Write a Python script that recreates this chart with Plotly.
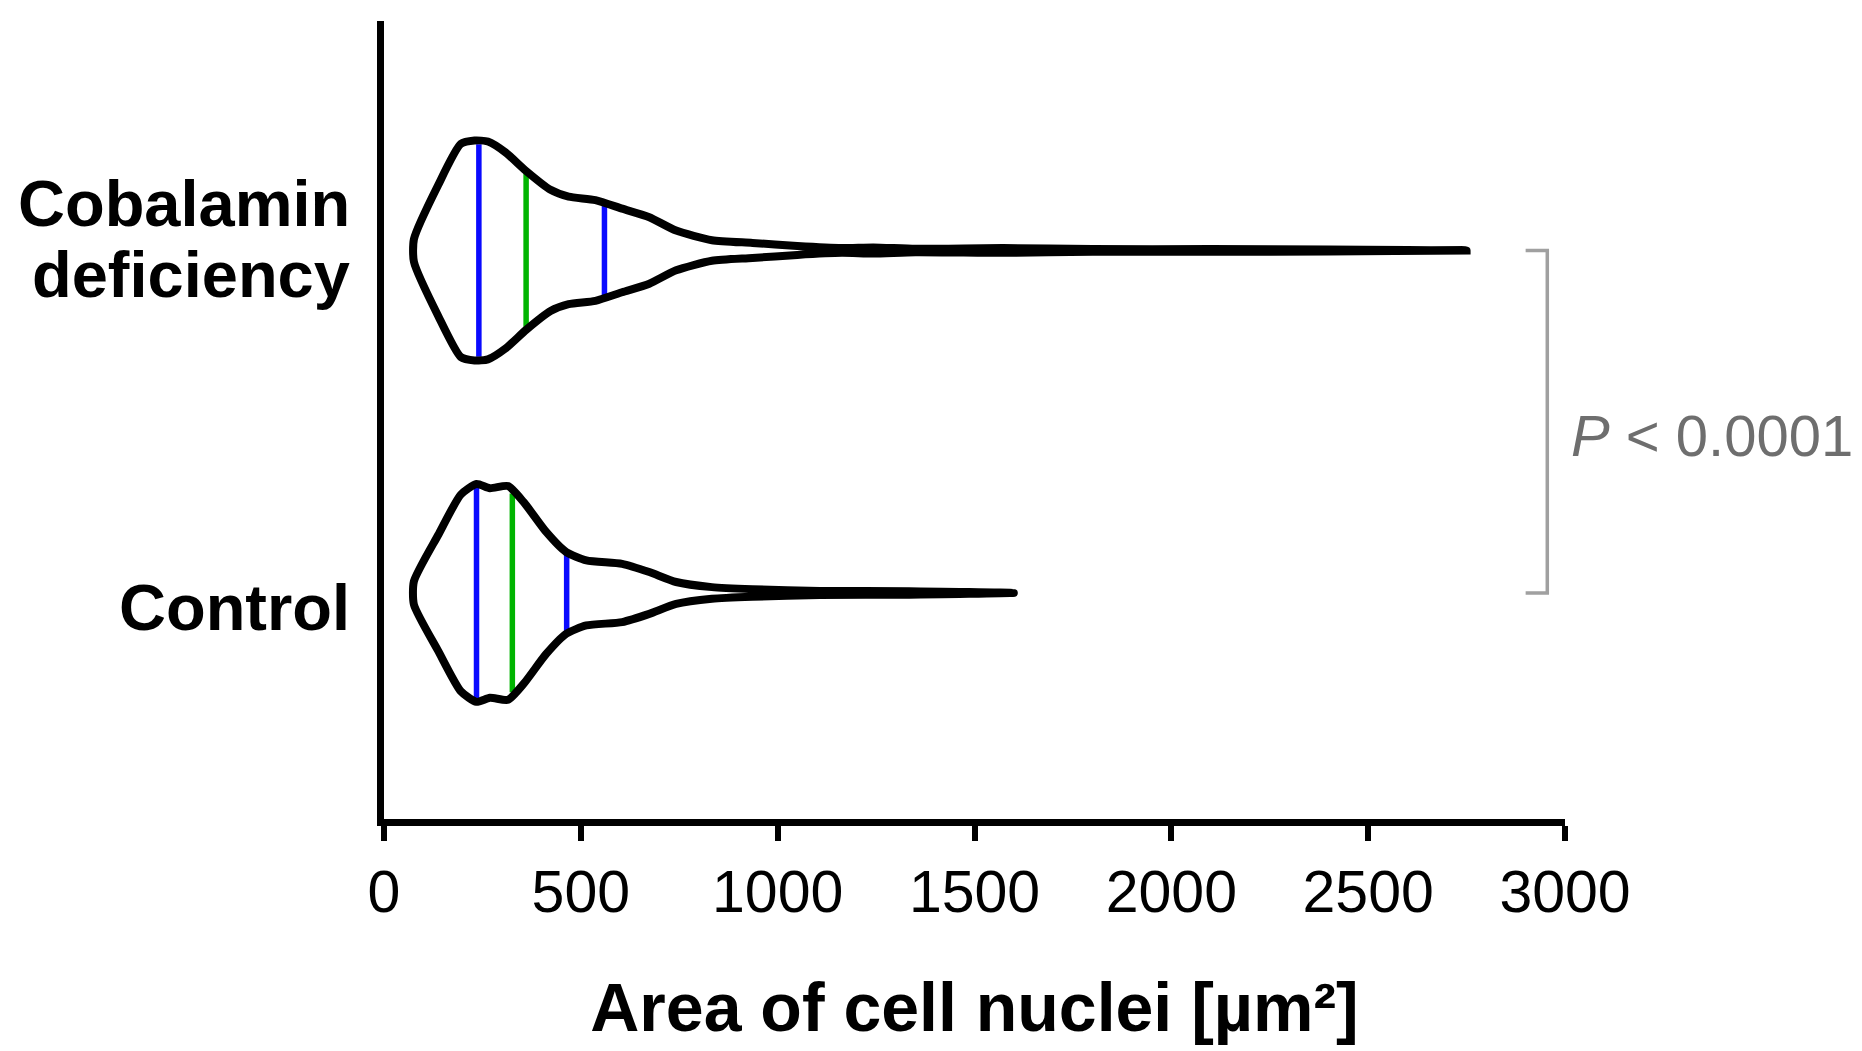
import numpy as np
import plotly.graph_objects as go

# Violin outlines: area value -> half-width (in category units)
group_pos = [1, 2]
label_ctl = ["Control"]
label_cob = ["Cobalamin", "deficiency"]

area_ctl = [76, 138, 195, 235, 269, 315, 355, 412, 463, 514, 605, 674, 742, 833, 936, 1107, 1334, 1600]
hw_ctl = [0.034, 0.17, 0.287, 0.318, 0.306, 0.312, 0.265, 0.178, 0.119, 0.095, 0.085, 0.061,
          0.032, 0.017, 0.011, 0.006, 0.005, 0.0]

area_cob = [76, 138, 195, 230, 264, 309, 361, 423, 469, 537, 605, 674, 742, 833, 936, 1050,
            1163, 1243, 1350, 1573, 1800, 2100, 2400, 2750]
hw_cob = [0.033, 0.192, 0.311, 0.321, 0.318, 0.286, 0.232, 0.177, 0.157, 0.147, 0.122, 0.097,
          0.058, 0.03, 0.022, 0.013, 0.007, 0.009, 0.005, 0.007, 0.004, 0.004, 0.003, 0.0]

# quartiles (Q1, median, Q3)
quart_ctl = [235, 326, 464]
quart_cob = [241, 361, 560]

x_ticks = [0, 500, 1000, 1500, 2000, 2500, 3000]
p_text = "<i>P</i> < 0.0001"

BLUE = "#0a0aff"
GREEN = "#00b400"
FONT = "Liberation Sans, Arial, sans-serif"

fig = go.Figure()

series = [
    (group_pos[0], area_ctl, hw_ctl, quart_ctl),
    (group_pos[1], area_cob, hw_cob, quart_cob),
]

for pos, area, hw, quart in series:
    area = np.array(area, dtype=float)
    hw = np.array(hw, dtype=float)
    # quartile / median lines inside the violin
    for q, col in zip(quart, [BLUE, GREEN, BLUE]):
        h = np.interp(q, area, hw) * 0.97
        fig.add_trace(go.Scatter(
            x=[q, q], y=[pos - h, pos + h], mode="lines",
            line=dict(color=col, width=5.5), hoverinfo="skip", showlegend=False,
        ))
    # outline: top edge out, bottom edge back (end point shared), closed at the tip
    xs = np.concatenate([area, area[-2::-1], area[:1]])
    ys = np.concatenate([pos + hw, (pos - hw)[-2::-1], [pos + hw[0]]])
    fig.add_trace(go.Scatter(
        x=xs, y=ys, mode="lines",
        line=dict(color="black", width=8, shape="spline", smoothing=0.6),
        hoverinfo="skip", showlegend=False,
    ))

# significance bracket between the two groups
fig.add_shape(type="path",
              path=f"M 2900,{group_pos[1]} L 2955,{group_pos[1]} L 2955,{group_pos[0]} L 2900,{group_pos[0]}",
              xref="x", yref="y", line=dict(color="#a0a0a0", width=3.5))
fig.add_annotation(x=1.0, xref="paper", y=np.mean(group_pos), yref="y", xshift=4, yshift=-14,
                   text=p_text, showarrow=False, xanchor="left", yanchor="middle",
                   font=dict(family=FONT, size=58, color="#6e6e6e"))

# group labels
label_font = dict(family=FONT, size=65, color="black")
for txt, y in zip(label_cob, [group_pos[1] + 0.137, group_pos[1] - 0.069]):
    fig.add_annotation(x=0, xref="paper", y=y, yref="y", xshift=-32, text=f"<b>{txt}</b>",
                       showarrow=False, xanchor="right", yanchor="middle", font=label_font)
for txt in label_ctl:
    fig.add_annotation(x=0, xref="paper", y=group_pos[0] - 0.041, yref="y", xshift=-32,
                       text=f"<b>{txt}</b>", showarrow=False, xanchor="right",
                       yanchor="middle", font=label_font)

fig.update_layout(
    width=1862, height=1051,
    margin=dict(l=376, r=305, t=13, b=240),
    plot_bgcolor="white", paper_bgcolor="white",
)

fig.update_xaxes(
    range=[0, 3000], tickvals=x_ticks, ticktext=[str(v) for v in x_ticks],
    showline=True, linecolor="black", linewidth=7,
    ticks="outside", ticklen=15, tickwidth=5.5, tickcolor="black",
    showgrid=False, zeroline=False,
    tickfont=dict(family=FONT, size=59, color="black"),
    title=dict(text="<b>Area of cell nuclei [µm²]</b>", standoff=62,
               font=dict(family=FONT, size=68, color="black")),
)

fig.update_yaxes(
    range=[0.34, 2.67], showticklabels=False, ticks="",
    showline=True, linecolor="black", linewidth=7,
    showgrid=False, zeroline=False,
)

fig.write_html("out.html")
